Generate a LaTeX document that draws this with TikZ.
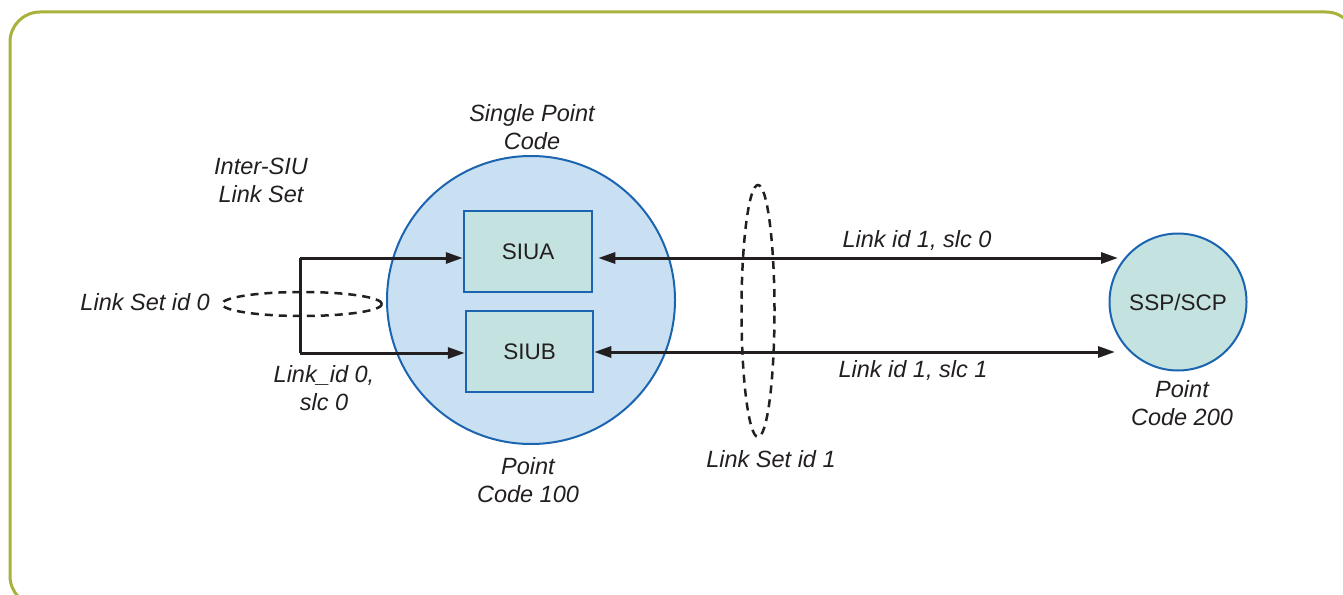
\documentclass[tikz,border=0pt]{standalone}
\usepackage{fontspec}
\setmainfont{Liberation Sans}
\usetikzlibrary{arrows.meta,shapes.geometric}
\definecolor{frameol}{HTML}{A8B13C}
\definecolor{spcfill}{HTML}{C9E0F3}
\definecolor{blueline}{HTML}{1B64B0}
\definecolor{boxfill}{HTML}{C3E2E0}
\definecolor{ink}{HTML}{231F20}
\tikzset{
  lbl/.style={inner sep=0pt, text=ink, font=\fontsize{23.5}{28}\selectfont\itshape, align=center},
  siubox/.style={draw=blueline, line width=2.5pt, fill=boxfill, text=ink, inner sep=0pt,
     minimum width=128pt, minimum height=81pt, font=\fontsize{22.5}{27}\selectfont},
  conn/.style={draw=ink, line width=3pt},
  tip/.tip={Triangle[length=17pt,width=11pt]},
  dashring/.style={ellipse, draw=ink, line width=2.5pt, dash pattern=on 8pt off 6pt, inner sep=0pt}
}
\begin{document}
\begin{tikzpicture}[x=1pt,y=-1pt]
\clip (0,0) rectangle (1343,594);
\draw[frameol, line width=3pt, rounded corners=30pt] (10,12) rectangle (1356,606);

% nodes
\node[circle, draw=blueline, line width=2pt, fill=spcfill, minimum size=288pt, inner sep=0pt] (spc) at (531,300) {};
\node[siubox] (siua) at (528,251.5) {SIUA};
\node[siubox, minimum width=127pt] (siub) at (529.5,351.5) {SIUB};
\node[circle, draw=blueline, line width=2pt, fill=boxfill, minimum size=137pt, inner sep=0pt, text=ink,
      font=\fontsize{22.5}{27}\selectfont] (ssp) at (1178,302) {SSP/SCP};

% dashed link-set rings
\node[dashring, minimum width=160pt, minimum height=24pt] (ls0) at (302,304) {};
\node[dashring, minimum width=33pt, minimum height=252pt] (ls1) at (758,311) {};

% inter-SIU links
\coordinate (lt) at (300,258);
\coordinate (lb) at (300,353);
\draw[conn] (lt) -- (lb);
\draw[conn, -tip] (lt) -- (siua.west |- lt);
\draw[conn, -tip] (lb) -- (siub.west |- lb);

% links to SSP/SCP
\coordinate (ra) at (1118,258);
\coordinate (rb) at (1115,352);
\draw[conn, tip-tip, shorten <=5pt] (siua.east |- ra) -- (ra);
\draw[conn, tip-tip] (siub.east |- rb) -- (rb);

% labels
\node[lbl] (l1) at (261,180.5) {Inter-SIU\\Link Set};
\node[lbl] (l2) at (532,127.5) {Single Point\\Code};
\node[lbl] (l3) at (528,480.5) {Point\\Code 100};
\node[lbl] (l4) at (324,388.5) {Link\_id 0,\\slc 0};
\node[lbl] (l5) at (1182,403.5) {Point\\Code 200};
\node[lbl, anchor=base east] (l6) at (210,310) {Link Set id 0};
\node[lbl, anchor=base] (l7) at (771,467) {Link Set id 1};
\node[lbl, anchor=base] (l8) at (917,247) {Link id 1, slc 0};
\node[lbl, anchor=base] (l9) at (913,377) {Link id 1, slc 1};
\end{tikzpicture}
\end{document}
